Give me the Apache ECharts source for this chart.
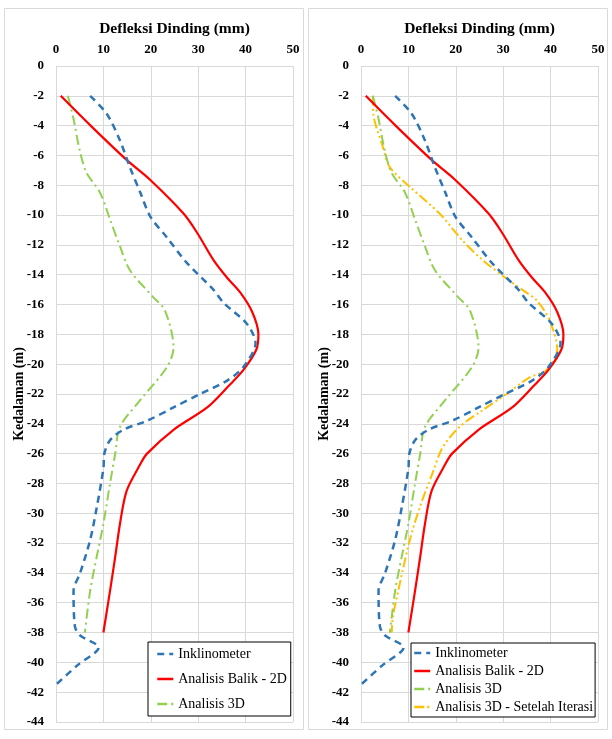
<!DOCTYPE html>
<html>
<head>
<meta charset="utf-8">
<script src="https://cdn.jsdelivr.net/npm/echarts@6/dist/echarts.min.js"></script>
<style>
  html, body { margin: 0; padding: 0; background: #fff; }
  #chart { width: 612px; height: 739px; }
</style>
</head>
<body>
<div id="chart"></div>
<script>
// data (deflection in mm, depth in m)
const inkloDepth = [-2, -3.2, -5, -6.8, -8.5, -10.1, -11.5, -13.2, -15, -15.9, -17.3, -18.6, -20.2, -21.1, -22, -22.9, -23.8, -24.4, -25.1, -26, -27, -29.6, -31.8, -34, -35.2, -37.6, -38.2, -39, -40.2, -41.5]
const inkloDefl = [7.2, 10.7, 13.5, 15.6, 17.8, 19.9, 23.4, 27.6, 33.2, 35.4, 40.3, 42.1, 39.5, 36.1, 30.4, 24.8, 19.2, 14.2, 11.4, 10.2, 10, 8.6, 7.2, 5.1, 3.7, 4, 5.1, 9, 4.5, 0]

const balikDepth = [-2, -4, -6.3, -7.65, -9.9, -11.2, -13, -14.2, -15.2, -16.5, -18, -19, -20.4, -21.5, -22.9, -24.4, -26, -26.7, -28.5, -30.7, -32.9, -35.2, -38]
const balikDefl = [1, 7.3, 14.9, 19.9, 26.9, 29.8, 33.2, 36.1, 38.9, 41.4, 42.7, 42.3, 39.5, 36.3, 31.9, 24.8, 19.2, 17.8, 14.9, 13.5, 12.5, 11.4, 10]

const a3dDepth = [-2, -3.4, -5.8, -7.2, -8.5, -10.3, -12.1, -13.7, -15.5, -16.4, -18.9, -20.2, -22.4, -24.2, -26, -28, -30.7, -32.9, -35.2, -38]
const a3dDefl = [2.5, 3.6, 5.1, 6.5, 9.3, 11.4, 13.5, 15.6, 20.5, 23, 24.8, 23.4, 17.8, 13.5, 12.5, 11.4, 10, 8.6, 7.2, 6.1]

const iterDepth = [-2, -3.2, -5.4, -6.8, -8.1, -9.9, -11.7, -13, -14.4, -15.2, -15.7, -17, -19, -20.4, -20.9, -22, -23.1, -24.2, -25.6, -27.3, -29.6, -31.8, -34.7, -37, -38]
const iterDefl = [2.5, 2.6, 4.6, 6.1, 10.3, 16.6, 21.4, 25.6, 31.3, 34.9, 37, 39.7, 41.4, 39.1, 35.5, 30.7, 25.6, 20.8, 17.2, 15.1, 12.4, 10.3, 8.2, 6.7, 6.5]

const names = ['Inklinometer', 'Analisis Balik - 2D', 'Analisis 3D', 'Analisis 3D - Setelah Iterasi']

const zip = (xs, ys) => xs.map((x, i) => [x, ys[i]])

const serif = 'Liberation Serif'
const gridColor = '#d9d9d9'

const styles = [
  { color: '#2E75B6', width: 2.5, type: [7, 5] },
  { color: '#FF0000', width: 2.2, type: 'solid' },
  { color: '#92D050', width: 2, type: [10, 4, 2, 4] },
  { color: '#FFC000', width: 2, type: [10, 3, 2, 3, 2, 3] }
]
const dataSets = [
  zip(inkloDefl, inkloDepth),
  zip(balikDefl, balikDepth),
  zip(a3dDefl, a3dDepth),
  zip(iterDefl, iterDepth)
]

const makeX = (idx) => ({
  type: 'value', gridIndex: idx, position: 'top',
  min: 0, max: 50, interval: 10,
  name: 'Defleksi Dinding (mm)', nameLocation: 'middle', nameGap: 29,
  nameTextStyle: { fontFamily: serif, fontWeight: 'bold', fontSize: 15.5, color: '#000' },
  axisLine: { show: false }, axisTick: { show: false },
  axisLabel: { fontFamily: serif, fontWeight: 'bold', fontSize: 13, color: '#000', margin: 10 },
  splitLine: { show: true, lineStyle: { color: gridColor, width: 1 } }
})
const makeY = (idx) => ({
  type: 'value', gridIndex: idx,
  min: -44, max: 0, interval: 2,
  name: 'Kedalaman (m)', nameLocation: 'middle', nameGap: 30, nameRotate: 90, nameMoveOverlap: false,
  nameTextStyle: { fontFamily: serif, fontWeight: 'bold', fontSize: 14, color: '#000' },
  axisLine: { show: false }, axisTick: { show: false },
  axisLabel: { fontFamily: serif, fontWeight: 'bold', fontSize: 13, color: '#000', margin: 12 },
  splitLine: { show: true, lineStyle: { color: gridColor, width: 1 } }
})

const series = []
// left panel: 3 series, right panel: 4 series
;[3, 4].forEach((count, g) => {
  for (let i = 0; i < count; i++) {
    series.push({
      name: names[i], type: 'line', xAxisIndex: g, yAxisIndex: g,
      data: dataSets[i], smooth: 0.3, symbol: 'none', showSymbol: false,
      lineStyle: styles[i], itemStyle: { color: styles[i].color },
      z: 10 - i, animation: false
    })
  }
})

const legendBase = {
  orient: 'vertical', selectedMode: false,
  backgroundColor: '#fff', borderColor: '#000', borderWidth: 1,
  itemWidth: 16, itemHeight: 14,
  itemStyle: { opacity: 0 },
  lineStyle: { width: 2.5 },
  textStyle: { fontFamily: serif, fontSize: 14, color: '#000' }
}

const chart = echarts.init(document.getElementById('chart'), null, { renderer: 'canvas' })
chart.setOption({
  backgroundColor: '#fff',
  animation: false,
  graphic: [
    { type: 'rect', shape: { x: 4.5, y: 8.5, width: 299, height: 721 }, style: { fill: 'none', stroke: gridColor, lineWidth: 1 }, z: -1 },
    { type: 'rect', shape: { x: 308.5, y: 8.5, width: 299, height: 721 }, style: { fill: 'none', stroke: gridColor, lineWidth: 1 }, z: -1 }
  ],
  grid: [
    { left: 56, top: 66, width: 237, height: 656 },
    { left: 361, top: 66, width: 237, height: 656 }
  ],
  xAxis: [makeX(0), makeX(1)],
  yAxis: [makeY(0), makeY(1)],
  legend: [
    Object.assign({}, legendBase, { data: names.slice(0, 3), left: 148, top: 642, itemGap: 11, padding: [5, 4, 5, 8] }),
    Object.assign({}, legendBase, { data: names.slice(0, 4), left: 411, top: 643, itemGap: 4, padding: [3, 2, 3, 2] })
  ],
  series: series
})
</script>
</body>
</html>
